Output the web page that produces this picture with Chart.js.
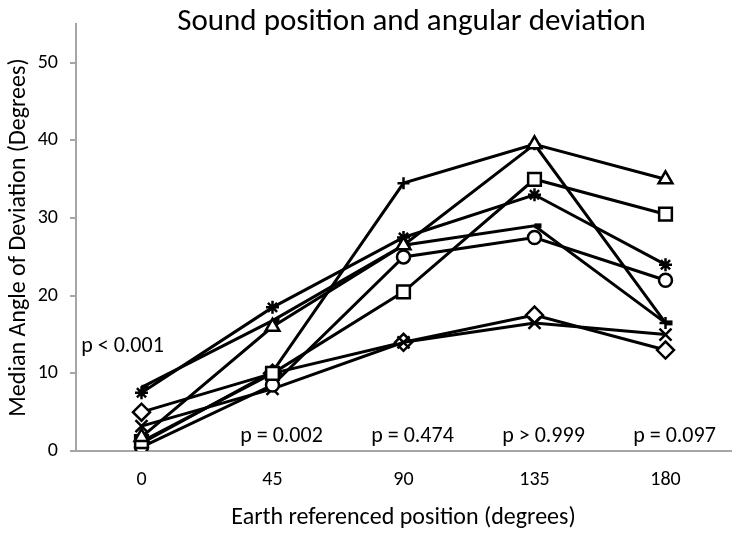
<!DOCTYPE html>
<html>
<head>
<meta charset="utf-8">
<script src="https://cdn.jsdelivr.net/npm/chart.js@4/dist/chart.umd.min.js"></script>
<style>
  html, body { margin: 0; padding: 0; background: #fff; }
  #wrap { width: 745px; height: 535px; }
</style>
</head>
<body>
<div id="wrap"><canvas id="lineChart"></canvas></div>
<script>
const categories = ["0", "45", "90", "135", "180"];

// median deviation per group, one array per marker
const triangleVals = [1.8, 16, 26.5, 39.5, 35];
const squareVals = [1.2, 10, 20.5, 35, 30.5];
const starVals = [7.5, 18.5, 27.5, 33, 24];
const circleVals = [0.5, 8.5, 25, 27.5, 22];
const plusVals = [1, 10.2, 34.5, 39.5, 16.5];
const dashVals = [8.2, 16.8, 26.5, 29, 16.5];
const crossVals = [3.2, 8, 14, 16.5, 15];
const diamondVals = [5, 10, 14, 17.5, 13];

const pLabels = ["p < 0.001", "p = 0.002", "p = 0.474", "p > 0.999", "p = 0.097"];

const yTicks = [0, 10, 20, 30, 40, 50];

const FONT = "Carlito, Lato, sans-serif";
const AXIS_GREY = "#a6a6a6";

const makeSeries = (label, data, style, radius, bw) => ({
    label: label,
    data: data,
    borderColor: "#000",
    borderWidth: 3,
    pointStyle: style,
    pointRadius: radius,
    pointHoverRadius: radius,
    pointBackgroundColor: "#fff",
    pointBorderColor: "#000",
    pointBorderWidth: bw || 2.5,
    tension: 0,
    fill: false,
});

// title + p-value notes
const textPlugin = {
    id: "textPlugin",
    afterDraw(chart) {
        const ctx = chart.ctx;
        const x = chart.scales.x;
        const y = chart.scales.y;
        const area = chart.chartArea;
        ctx.save();
        ctx.fillStyle = "#000";
        ctx.textAlign = "center";
        ctx.textBaseline = "middle";
        ctx.font = "31px " + FONT;
        ctx.fillText("Sound position and angular deviation", (area.left + area.right) / 2 + 8, 22);

        ctx.font = "22px " + FONT;
        pLabels.forEach((txt, i) => {
            if (i === 0) {
                ctx.fillText(txt, x.getPixelForValue(i) - 19, y.getPixelForValue(13.4));
            } else {
                ctx.fillText(txt, x.getPixelForValue(i) + 9, y.getPixelForValue(1.9));
            }
        });
        ctx.restore();
    },
};

const ctx = document.getElementById("lineChart").getContext("2d");

new Chart(ctx, {
    type: "line",
    data: {
        labels: categories,
        datasets: [
            makeSeries("Triangle", triangleVals, "triangle", 8),
            makeSeries("Square", squareVals, "rect", 9),
            makeSeries("Star", starVals, "star", 6.5),
            makeSeries("Circle", circleVals, "circle", 6.5),
            makeSeries("Plus", plusVals, "cross", 6),
            makeSeries("Dash", dashVals, "dash", 7, 5),
            makeSeries("Cross", crossVals, "crossRot", 8.5),
            makeSeries("Diamond", diamondVals, "rectRot", 8.5),
        ],
    },
    options: {
        responsive: true,
        maintainAspectRatio: false,
        animation: false,
        layout: { padding: { top: 22, right: 14, left: 0, bottom: 0 } },
        plugins: {
            legend: { display: false },
            title: { display: false },
            tooltip: { enabled: false },
        },
        scales: {
            x: {
                type: "category",
                offset: true,
                grid: { display: false },
                border: { display: true, color: AXIS_GREY, width: 2 },
                ticks: { color: "#000", font: { family: FONT, size: 20 }, padding: 9 },
                title: {
                    display: true,
                    text: "Earth referenced position (degrees)",
                    color: "#000",
                    font: { family: FONT, size: 24 },
                    padding: { top: 10, bottom: 3 },
                },
                afterFit: (scale) => { scale.height = 84; },
            },
            y: {
                min: 0,
                max: 55,
                afterBuildTicks: (scale) => {
                    scale.ticks = yTicks.map((v) => ({ value: v }));
                },
                grid: {
                    drawOnChartArea: false,
                    color: AXIS_GREY,
                    lineWidth: 2,
                    tickLength: 6,
                },
                border: { display: true, color: AXIS_GREY, width: 2 },
                ticks: { color: "#000", font: { family: FONT, size: 20 }, padding: 12 },
                title: {
                    display: true,
                    text: "Median Angle of Deviation (Degrees)",
                    color: "#000",
                    font: { family: FONT, size: 24 },
                    padding: { top: 5, bottom: 4 },
                },
                afterFit: (scale) => { scale.width = 76; },
            },
        },
    },
    plugins: [textPlugin],
});
</script>
</body>
</html>
